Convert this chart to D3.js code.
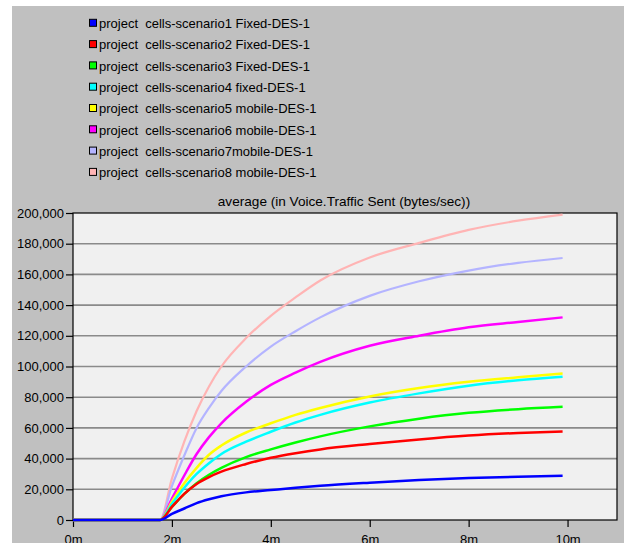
<!DOCTYPE html>
<html lang="en">
  <head>
    <script src="https://d3js.org/d3.v7.min.js"></script>
    <style>
      body { margin: 0; background: #fff; }
      text { font-family: "Liberation Sans", Arial, sans-serif; }
    </style>
  </head>
  <body>
    <svg width="624" height="543"></svg>
    <script>
      // legend labels and line colours
      var labels = [
        "project  cells-scenario1 Fixed-DES-1",
        "project  cells-scenario2 Fixed-DES-1",
        "project  cells-scenario3 Fixed-DES-1",
        "project  cells-scenario4 fixed-DES-1",
        "project  cells-scenario5 mobile-DES-1",
        "project  cells-scenario6 mobile-DES-1",
        "project  cells-scenario7mobile-DES-1",
        "project  cells-scenario8 mobile-DES-1"
      ];
      var colors = ["#0000ff", "#ff0000", "#00ff00", "#00ffff",
                    "#ffff00", "#ff00ff", "#b4b4ff", "#ffb4b4"];

      // time in minutes
      var times = [0, 1.76, 2.0, 2.25, 2.5, 2.75, 3.0, 3.5, 4.0, 4.5, 5.0, 6.0, 7.0, 8.0, 9.0, 9.9];

      // bytes/sec per scenario
      var scenario1 = [0, 0, 4000, 7500, 11000, 13500, 15500, 18000, 19500, 21000, 22300, 24300, 26000, 27300, 28200, 28800];
      var scenario2 = [0, 0, 8500, 17000, 23500, 28000, 31500, 36500, 40500, 43500, 46000, 49500, 52500, 55000, 56700, 57700];
      var scenario3 = [0, 0, 8500, 17000, 24000, 29500, 34000, 41000, 46000, 50500, 54500, 61000, 66000, 69800, 72200, 73700];
      var scenario4 = [0, 0, 10500, 21000, 30000, 37000, 43000, 51000, 57500, 63500, 68500, 76500, 82500, 87500, 91000, 93300];
      var scenario5 = [0, 0, 12000, 24000, 34000, 42500, 48500, 57000, 63000, 68500, 73000, 80500, 86000, 90000, 93000, 95500];
      var scenario6 = [0, 0, 14000, 29000, 43000, 54000, 63000, 77000, 88000, 96000, 103000, 113500, 120000, 125500, 129000, 132000];
      var scenario7 = [0, 0, 22000, 42000, 60000, 73000, 84000, 100000, 113000, 123000, 132000, 146000, 155500, 162500, 167500, 170700];
      var scenario8 = [0, 0, 27000, 51000, 71000, 87000, 100000, 118500, 133000, 145000, 156000, 171000, 180500, 189000, 195000, 199000];

      var series = [scenario1, scenario2, scenario3, scenario4,
                    scenario5, scenario6, scenario7, scenario8];

      var xTicks = [0, 2, 4, 6, 8, 10];
      var yTicks = [0, 20000, 40000, 60000, 80000, 100000, 120000, 140000, 160000, 180000, 200000];
      var title = "average (in Voice.Traffic Sent (bytes/sec))";

      var svg = d3.select("svg");

      // grey panel
      svg.append("rect")
        .attr("x", 12).attr("y", 6)
        .attr("width", 612).attr("height", 537)
        .attr("fill", "#c0c0c0");

      var plotLeft = 73, plotRight = 617, plotTop = 213, plotBottom = 520;

      var xScale = d3.scaleLinear().domain([0, 11]).range([plotLeft, plotRight]);
      var yScale = d3.scaleLinear().domain([0, 200000]).range([plotBottom, plotTop]);

      // plot background
      svg.append("rect")
        .attr("x", plotLeft).attr("y", plotTop)
        .attr("width", plotRight - plotLeft).attr("height", plotBottom - plotTop)
        .attr("fill", "#f0f0f0");

      // horizontal grid
      svg.append("g")
        .selectAll("line")
        .data(yTicks.slice(1, -1))
        .enter()
        .append("line")
        .attr("x1", plotLeft).attr("x2", plotRight)
        .attr("y1", function (d) { return yScale(d); })
        .attr("y2", function (d) { return yScale(d); })
        .attr("stroke", "#8a8a8a")
        .attr("stroke-width", 1.6);

      // frame
      svg.append("rect")
        .attr("x", plotLeft).attr("y", plotTop)
        .attr("width", plotRight - plotLeft).attr("height", plotBottom - plotTop)
        .attr("fill", "none")
        .attr("stroke", "#000")
        .attr("stroke-width", 1.2);

      // axes
      var yAxis = svg.append("g")
        .attr("transform", "translate(" + plotLeft + ",0)")
        .call(d3.axisLeft(yScale).tickValues(yTicks).tickSize(7).tickPadding(2)
          .tickFormat(d3.format(",")));
      var xAxis = svg.append("g")
        .attr("transform", "translate(0," + plotBottom + ")")
        .call(d3.axisBottom(xScale).tickValues(xTicks).tickSize(7).tickPadding(8)
          .tickFormat(function (d) { return d + "m"; }));
      [yAxis, xAxis].forEach(function (a) {
        a.select(".domain").remove();
        a.selectAll("line").attr("stroke", "#000").attr("stroke-width", 1.2);
        a.selectAll("text").attr("fill", "#000")
          .style("font-family", "'Liberation Sans', Arial, sans-serif")
          .style("font-size", "13px");
      });

      // title
      svg.append("text")
        .attr("x", (plotLeft + plotRight) / 2 - 1)
        .attr("y", 206)
        .attr("text-anchor", "middle")
        .style("font-size", "13.6px")
        .text(title);

      // lines, blue drawn last so it sits on top
      var line = d3.line()
        .x(function (d, i) { return xScale(times[i]); })
        .y(function (d) { return yScale(d); })
        .curve(d3.curveMonotoneX);

      var order = [7, 6, 5, 4, 3, 2, 1, 0];
      svg.append("g")
        .selectAll("path")
        .data(order)
        .enter()
        .append("path")
        .attr("d", function (k) { return line(series[k]); })
        .attr("fill", "none")
        .attr("stroke", function (k) { return colors[k]; })
        .attr("stroke-width", function (k) { return k >= 6 ? 2.2 : 2.5; });

      // legend
      var legend = svg.append("g")
        .selectAll("g")
        .data(labels)
        .enter()
        .append("g")
        .attr("transform", function (d, i) {
          return "translate(89," + (23.3 + i * 21.3) + ")";
        });
      legend.append("rect")
        .attr("x", 0.5).attr("y", -4)
        .attr("width", 7).attr("height", 7)
        .attr("fill", function (d, i) { return colors[i]; })
        .attr("stroke", "#000");
      legend.append("text")
        .attr("x", 10)
        .attr("y", 4.8)
        .style("font-size", "13px")
        .style("white-space", "pre")
        .text(function (d) { return d; });
    </script>
  </body>
</html>
